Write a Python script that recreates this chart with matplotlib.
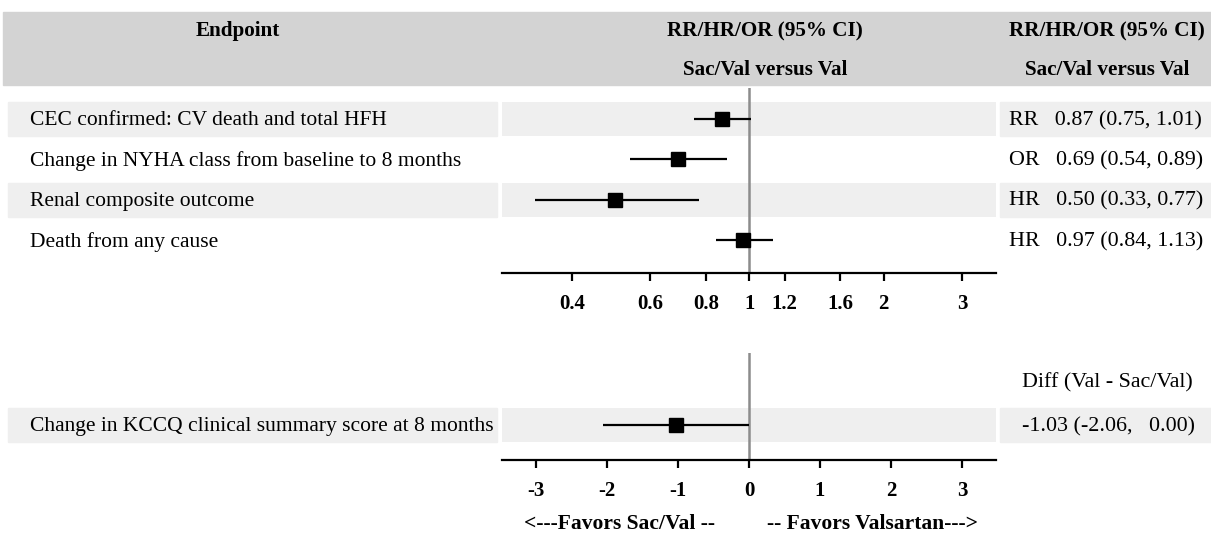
import numpy as np
import matplotlib
matplotlib.use('Agg')
import matplotlib.pyplot as plt
from matplotlib.patches import Rectangle
from matplotlib import transforms

# data
endpoints = ['CEC confirmed: CV death and total HFH',
             'Change in NYHA class from baseline to 8 months',
             'Renal composite outcome',
             'Death from any cause']
est_type = ['RR', 'OR', 'HR', 'HR']
est = [0.87, 0.69, 0.50, 0.97]
lo = [0.75, 0.54, 0.33, 0.84]
hi = [1.01, 0.89, 0.77, 1.13]
ratio_ticks = [0.4, 0.6, 0.8, 1, 1.2, 1.6, 2, 3]
ratio_ticklabels = ['0.4', '0.6', '0.8', '1', '1.2', '1.6', '2', '3']

kccq_label = 'Change in KCCQ clinical summary score at 8 months'
kccq_est = [-1.03]
kccq_lo = [-2.06]
kccq_hi = [0.00]
diff_ticks = [-3, -2, -1, 0, 1, 2, 3]

plt.rcParams['font.family'] = ['Liberation Serif', 'DejaVu Serif']
W, H = 1211, 534
fig = plt.figure(figsize=(W / 100, H / 100), dpi=100)

def fx(px):
    return px / W

def fy(py):
    return 1 - py / H

band = '#efefef'
head = '#d3d3d3'
FS = 15.5

# header band
fig.patches.append(Rectangle((fx(3), fy(85)), fx(W - 3), (85 - 12) / H,
                             transform=fig.transFigure, color=head, zorder=0))
hdr = dict(fontsize=15.2, fontweight='bold', ha='center', va='center')
fig.text(fx(238), fy(31), 'Endpoint', **hdr)
fig.text(fx(765), fy(31), 'RR/HR/OR (95% CI)', **hdr)
fig.text(fx(765), fy(70), 'Sac/Val versus Val', **hdr)
fig.text(fx(1107), fy(31), 'RR/HR/OR (95% CI)', **hdr)
fig.text(fx(1107), fy(70), 'Sac/Val versus Val', **hdr)

ax_l, ax_r = 502, 996


def style_axis(ax, ticks, labels):
    for s in ['top', 'left', 'right']:
        ax.spines[s].set_visible(False)
    ax.spines['bottom'].set_linewidth(1.6)
    ax.set_yticks([])
    ax.set_xticks(ticks)
    ax.set_xticklabels(labels)
    ax.xaxis.set_minor_locator(matplotlib.ticker.NullLocator())
    ax.tick_params(axis='x', direction='out', length=6, width=1.6, pad=9,
                   labelsize=15)
    for t in ax.get_xticklabels():
        t.set_fontweight('bold')
    ax.patch.set_alpha(0)


def add_row(ax, i, label, right, right_x, shaded):
    tr = transforms.blended_transform_factory(fig.transFigure, ax.transData)
    if shaded:
        for x0, x1 in [(8, 497), (1000, W)]:
            fig.patches.append(Rectangle((fx(x0), i - 0.42), fx(x1 - x0), 0.84,
                                         transform=tr, color=band, zorder=0))
        ax.axhspan(i - 0.42, i + 0.42, color=band, zorder=0, lw=0)
    fig.text(fx(30), i + 0.04, label, transform=tr, fontsize=FS,
             va='center', ha='left')
    fig.text(fx(right_x), i + 0.04, right, transform=tr, fontsize=15.8,
             va='center', ha='left')


# top panel (ratios, log scale)
ax1 = fig.add_axes([fx(ax_l), fy(273), fx(ax_r - ax_l), (273 - 88) / H])
ax1.set_xscale('log')
ax1.set_xlim(0.2786, 3.576)
ax1.set_ylim(3.82, -0.77)
rows = np.arange(len(endpoints))
for i in rows:
    add_row(ax1, i, endpoints[i],
            '%s   %.2f (%.2f, %.2f)' % (est_type[i], est[i], lo[i], hi[i]),
            1009, i % 2 == 0)
ax1.axvline(1, color='#8c8c8c', lw=1.8, zorder=1)
ax1.hlines(rows, lo, hi, color='black', lw=1.6, zorder=2)
ax1.plot(est, rows, 's', color='black', ms=9.5, zorder=3)
style_axis(ax1, ratio_ticks, ratio_ticklabels)

# bottom panel (difference)
ax2 = fig.add_axes([fx(ax_l), fy(460), fx(ax_r - ax_l), (460 - 353) / H])
ax2.set_xlim(-3.48, 3.48)
ax2.set_ylim(0.87, -1.79)
add_row(ax2, 0, kccq_label,
        '%.2f (%.2f,   %.2f)' % (kccq_est[0], kccq_lo[0], kccq_hi[0]),
        1022, True)
tr2 = transforms.blended_transform_factory(fig.transFigure, ax2.transData)
fig.text(fx(1022), -1.05, 'Diff (Val - Sac/Val)', transform=tr2,
         fontsize=15.8, va='center', ha='left')
ax2.axvline(0, color='#8c8c8c', lw=1.8, zorder=1)
ax2.hlines([0], kccq_lo, kccq_hi, color='black', lw=1.6, zorder=2)
ax2.plot(kccq_est, [0], 's', color='black', ms=9.5, zorder=3)
style_axis(ax2, diff_ticks, [str(t) for t in diff_ticks])

fig.text(fx(620), fy(524), '<---Favors Sac/Val --', fontsize=15.5,
         fontweight='bold', ha='center', va='center')
fig.text(fx(872), fy(524), '-- Favors Valsartan--->', fontsize=15.5,
         fontweight='bold', ha='center', va='center')

fig.savefig('out.png', dpi=100)
